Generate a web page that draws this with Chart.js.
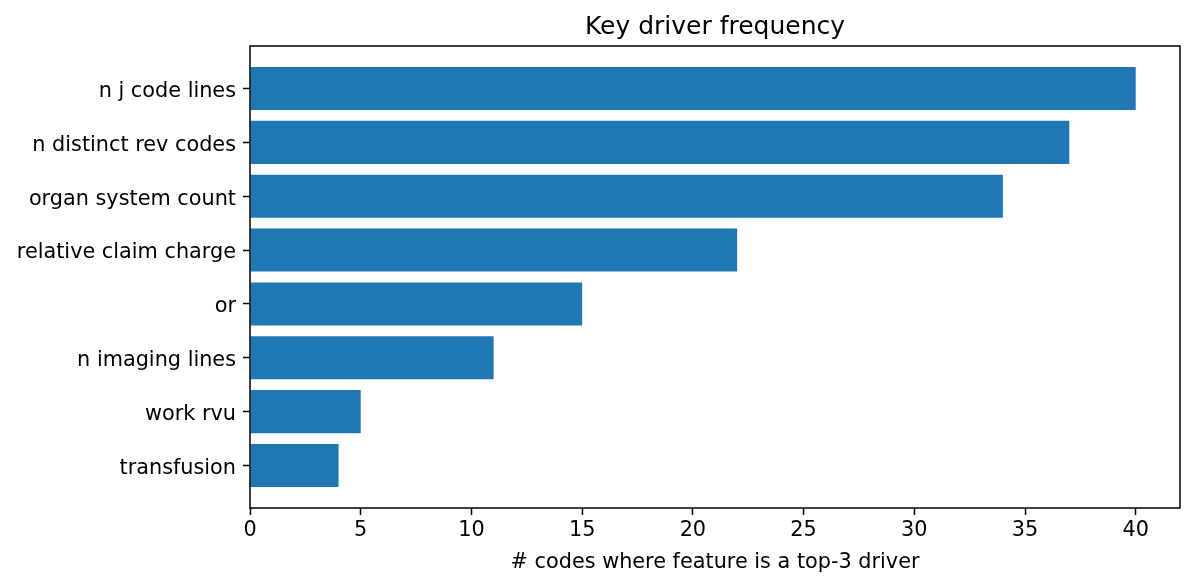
<!DOCTYPE html>
<html>
<head>
<meta charset="utf-8">
<script src="https://cdn.jsdelivr.net/npm/chart.js@4"></script>
<style>
  body { margin: 0; background: #fff; }
</style>
</head>
<body>
<canvas id="chart" width="1194" height="586"></canvas>
<script>
const categories = ['n j code lines', 'n distinct rev codes', 'organ system count', 'relative claim charge', 'or', 'n imaging lines', 'work rvu', 'transfusion'];
const counts = [40, 37, 34, 22, 15, 11, 5, 4];
const xTicks = [0, 5, 10, 15, 20, 25, 30, 35, 40];

const FONT = 'DejaVu Sans';

// spines + title centred over the plot, like matplotlib
const frame = {
    id: 'frame',
    afterDraw(chart) {
        const { ctx, chartArea: a } = chart;
        ctx.save();
        ctx.strokeStyle = '#000';
        ctx.lineWidth = 1.5;
        ctx.strokeRect(a.left, a.top, a.right - a.left, a.bottom - a.top);
        ctx.fillStyle = '#000';
        ctx.font = '25px "' + FONT + '"';
        ctx.textAlign = 'center';
        ctx.textBaseline = 'middle';
        ctx.fillText('Key driver frequency', (a.left + a.right) / 2, 27);
        ctx.restore();
    }
};

new Chart(document.getElementById('chart'), {
    type: 'bar',
    data: {
        datasets: [{
            data: counts.map((v, i) => ({ x: v, y: i })),
            backgroundColor: '#1f77b4',
            borderWidth: 0,
            categoryPercentage: 1,
            barPercentage: 0.8
        }]
    },
    options: {
        indexAxis: 'y',
        responsive: false,
        animation: false,
        devicePixelRatio: 1,
        layout: { padding: { top: 46, right: 14, left: 0, bottom: 0 } },
        plugins: { legend: { display: false }, tooltip: { enabled: false } },
        scales: {
            x: {
                type: 'linear',
                min: 0,
                max: 42,
                afterBuildTicks: axis => { axis.ticks = xTicks.map(v => ({ value: v })); },
                afterFit: axis => { axis.height = 78; },
                grid: { drawOnChartArea: false, drawTicks: true, tickLength: 7, tickWidth: 1.5, tickColor: '#000' },
                border: { display: false },
                ticks: { color: '#000', font: { family: FONT, size: 20.8 }, padding: 3, maxRotation: 0 },
                title: { display: true, text: '# codes where feature is a top-3 driver', color: '#000', font: { family: FONT, size: 20.8 }, padding: { top: 4, bottom: 11 } }
            },
            y: {
                type: 'linear',
                reverse: true,
                offset: false,
                min: -0.79,
                max: 7.79,
                afterBuildTicks: axis => { axis.ticks = categories.map((c, i) => ({ value: i })); },
                afterFit: axis => { axis.width = 250; },
                grid: { offset: false, drawOnChartArea: false, drawTicks: true, tickLength: 7, tickWidth: 1.5, tickColor: '#000' },
                border: { display: false },
                ticks: {
                    color: '#000',
                    font: { family: FONT, size: 20.8 },
                    padding: 7,
                    labelOffset: 3,
                    callback: v => categories[v]
                }
            }
        }
    },
    plugins: [frame]
});
</script>
</body>
</html>
